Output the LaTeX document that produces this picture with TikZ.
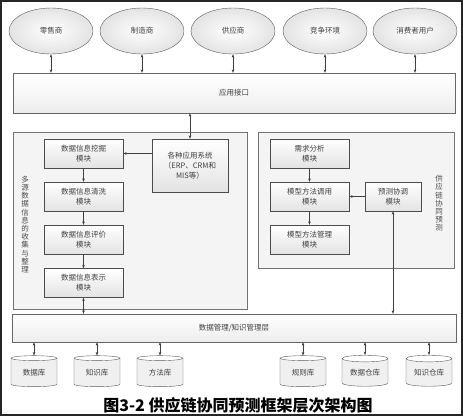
\documentclass[tikz,border=0pt]{standalone}
\usepackage{fontspec}
\newfontfamily\cjk{Noto Sans CJK SC}
\usetikzlibrary{arrows.meta, positioning, shapes.geometric}

\tikzset{
  txt/.style={font=\cjk\fontsize{7.5}{10}\selectfont, text=black!75},
  party/.style={ellipse, draw=black!65, inner color=white, outer color=gray!22,
    minimum width=84pt, minimum height=46pt, inner sep=0pt, txt},
  modbox/.style={draw=black!70, top color=white, bottom color=gray!22,
    minimum width=79pt, minimum height=29pt, inner sep=1pt, align=center, txt},
  layer/.style={draw=black!60, top color=white, bottom color=gray!14,
    inner sep=0pt, txt},
  panel/.style={draw=black!55, fill=gray!9, inner sep=0pt},
  store/.style={cylinder, shape border rotate=90, aspect=0.22, draw=black!65,
    cylinder uses custom fill, cylinder body fill=gray!12, cylinder end fill=white,
    minimum width=46pt, minimum height=31pt, inner sep=0pt, txt},
  vlabel/.style={align=center, inner sep=0pt, font=\cjk\fontsize{7.5}{8.2}\selectfont, text=black!70},
  link/.style={{Stealth[length=3.5pt,width=2.6pt]}-{Stealth[length=3.5pt,width=2.6pt]}, black!75},
  feed/.style={-{Stealth[length=3.5pt,width=2.6pt]}, black!75},
}

\begin{document}
\begin{tikzpicture}[x=1pt, y=-1pt]
  \useasboundingbox (0,0) rectangle (463,416);
  % outer frame of the scan
  \draw[black!85, line width=1.6pt] (1,1) rectangle (462,415);

  % supply chain parties
  \node[party] (retail) at (51,31)  {零售商};
  \node[party] (maker)  at (142,31) {制造商};
  \node[party] (supply) at (233,31) {供应商};
  \node[party] (market) at (325,31) {竞争环境};
  \node[party] (buyer)  at (415,31) {消费者用户};

  % application interface
  \node[layer, minimum width=442pt, minimum height=40pt] (api) at (234,93) {应用接口};

  \foreach \p in {retail, maker, supply, market, buyer}
    \draw[link] (\p.south) -- (\p.south |- api.north);

  % left panel: data collection
  \node[panel, minimum width=234pt, minimum height=177pt] (leftpanel) at (130,220.5) {};
  \node[vlabel] (leftlabel) at (25,224.5)
    {多\\源\\数\\据\\信\\息\\的\\收\\集\\与\\整\\理};
  \node[modbox] (mine)  at (83.5,153.5) {数据信息挖掘\\模块};
  \node[modbox] (clean) at (83.5,196.5) {数据信息清洗\\模块};
  \node[modbox] (judge) at (83.5,239.5) {数据信息评价\\模块};
  \node[modbox] (show)  at (83.5,283)   {数据信息表示\\模块};
  \node[modbox, minimum width=76pt, minimum height=53pt] (apps) at (190,165.5)
    {各种应用系统\\（ERP、CRM和\\MIS等）};

  % right panel: collaborative forecasting
  \node[panel, minimum width=196pt, minimum height=136pt] (rightpanel) at (356,200) {};
  \node[vlabel] (rightlabel) at (439,203.5) {供\\应\\链\\协\\同\\预\\测};
  \node[modbox] (demand) at (309.5,153.5) {需求分析\\模块};
  \node[modbox] (call)   at (309.5,196.5) {模型方法调用\\模块};
  \node[modbox] (manage) at (309.5,239.5) {模型方法管理\\模块};
  \node[modbox, minimum width=56pt] (coord) at (393,196.5) {预测协调\\模块};

  % data / knowledge layer
  \node[layer, minimum width=444pt, minimum height=28pt] (data) at (234,328) {数据管理/知识管理层};

  % stores
  \node[store] (db)    at (34,372.5)  {数据库};
  \node[store] (kb)    at (97,372.5)  {知识库};
  \node[store] (mb)    at (160,372.5) {方法库};
  \node[store] (rb)    at (303,372.5) {规则库};
  \node[store] (dw)    at (365,372.5) {数据仓库};
  \node[store] (kw)    at (429,372.5) {知识仓库};

  % connectors
  \draw[link] (apps.north |- api.south) -- (apps.north);
  \draw[feed] (apps.west |- mine.east) -- (mine.east);
  \draw[feed] (mine) -- (clean);
  \draw[feed] (clean) -- (judge);
  \draw[feed] (judge) -- (show);
  \draw[link] (show.south) -- (show.south |- data.north);
  \draw[feed] (demand) -- (call);
  \draw[feed] (call) -- (manage);
  \draw[feed] (coord) -- (call);
  \draw[link] (coord.south) -- (coord.south |- data.north);
  \foreach \s in {db, kb, mb, rb, dw, kw}
    \draw[link] (\s.north |- data.south) -- (\s.north);

  % caption
  \node[font=\cjk\bfseries\fontsize{16}{19}\selectfont] (caption) at (238,405.5)
    {图3-2 供应链协同预测框架层次架构图};
\end{tikzpicture}
\end{document}
